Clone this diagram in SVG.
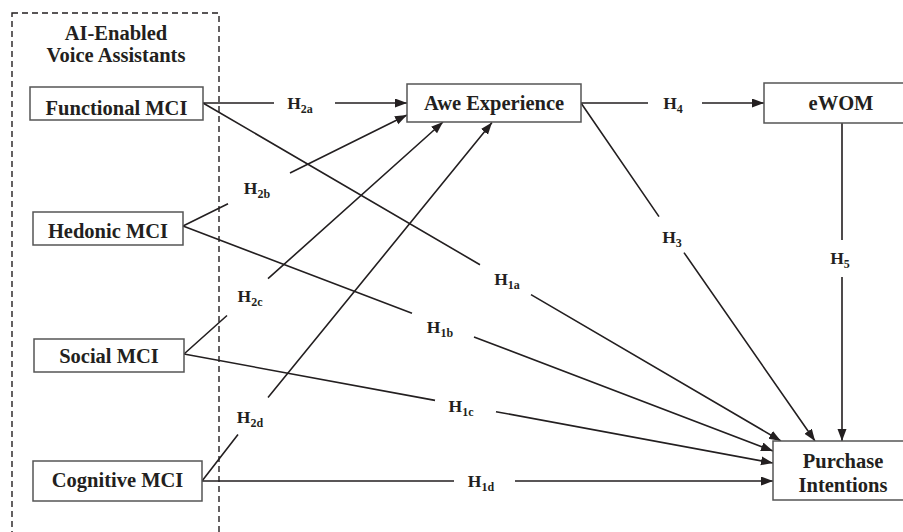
<svg xmlns="http://www.w3.org/2000/svg" width="903" height="532" viewBox="0 0 903 532">
<defs>
<marker id="arr" markerUnits="userSpaceOnUse" markerWidth="13" markerHeight="10" refX="12" refY="4.5" orient="auto">
<path d="M0,0 L12,4.5 L0,9 z" fill="#231f20"/>
</marker>
<style>
.box{fill:#fff;stroke:#555;stroke-width:1.5}
.t{font-family:"Liberation Serif","Times New Roman",serif;font-weight:bold;font-size:20.5px;fill:#231f20;text-anchor:middle}
.h{font-family:"Liberation Serif","Times New Roman",serif;font-weight:bold;font-size:17.5px;fill:#231f20;text-anchor:middle}
.s{font-size:12px}
.c{fill:none;stroke:#231f20;stroke-width:1.6;marker-end:url(#arr)}
.dash{fill:none;stroke:#231f20;stroke-width:1.4;stroke-dasharray:6 4}
</style>
</defs>
<rect class="dash" x="12" y="13" width="207" height="540"/>
<text class="t" x="116" y="40">AI-Enabled</text>
<text class="t" x="116" y="62">Voice Assistants</text>
<g id="connectors">
<path class="c" d="M203,103 L274,103 M335,103 L407,103"/>
<path class="c" d="M183,226 L228,203.7 M290,173 L407,115"/>
<path class="c" d="M184,354 L227,315.5 M268,278.7 L443,122"/>
<path class="c" d="M202,481 L238,434.4 M268,397.6 L492,122.5"/>
<path class="c" d="M203,103 L480,264.7 M531,294.6 L781,441"/>
<path class="c" d="M183,226 L412,313.3 M474,337 L773,451"/>
<path class="c" d="M184,354 L435,400.4 M496,411.7 L773,463"/>
<path class="c" d="M202,481 L454,481 M515,481 L773,481"/>
<path class="c" d="M581,103 L659,216.6 M684,252.6 L815,441"/>
<path class="c" d="M581,103 L648,103 M702,103 L764,103"/>
<path class="c" d="M842,123 L842,240 M842,277 L842,441"/>
<text class="h" x="300" y="109">H<tspan class="s" dy="4">2a</tspan></text>
<text class="h" x="257" y="194">H<tspan class="s" dy="4">2b</tspan></text>
<text class="h" x="250" y="302">H<tspan class="s" dy="4">2c</tspan></text>
<text class="h" x="250" y="423">H<tspan class="s" dy="4">2d</tspan></text>
<text class="h" x="507" y="285">H<tspan class="s" dy="4">1a</tspan></text>
<text class="h" x="440" y="333">H<tspan class="s" dy="4">1b</tspan></text>
<text class="h" x="461" y="412">H<tspan class="s" dy="4">1c</tspan></text>
<text class="h" x="481" y="487">H<tspan class="s" dy="4">1d</tspan></text>
<text class="h" x="672" y="243">H<tspan class="s" dy="4">3</tspan></text>
<text class="h" x="673" y="109">H<tspan class="s" dy="4">4</tspan></text>
<text class="h" x="840" y="264">H<tspan class="s" dy="4">5</tspan></text>
</g>
<g id="functional"><rect class="box" x="30" y="87" width="173" height="33"/><text class="t" x="116.5" y="115">Functional MCI</text></g>
<g id="hedonic"><rect class="box" x="33" y="212" width="150" height="33"/><text class="t" x="108" y="238">Hedonic MCI</text></g>
<g id="social"><rect class="box" x="34" y="339" width="150" height="33"/><text class="t" x="109" y="363">Social MCI</text></g>
<g id="cognitive"><rect class="box" x="33" y="461" width="169" height="40"/><text class="t" x="117.5" y="487">Cognitive MCI</text></g>
<g id="awe"><rect class="box" x="407" y="84" width="174" height="38"/><text class="t" x="494" y="110">Awe Experience</text></g>
<g id="ewom"><rect class="box" x="764" y="83" width="156" height="40"/><text class="t" x="841" y="110">eWOM</text></g>
<g id="purchase"><rect class="box" x="773" y="441" width="147" height="59"/><text class="t" x="843" y="468">Purchase</text><text class="t" x="843" y="492">Intentions</text></g>
</svg>
